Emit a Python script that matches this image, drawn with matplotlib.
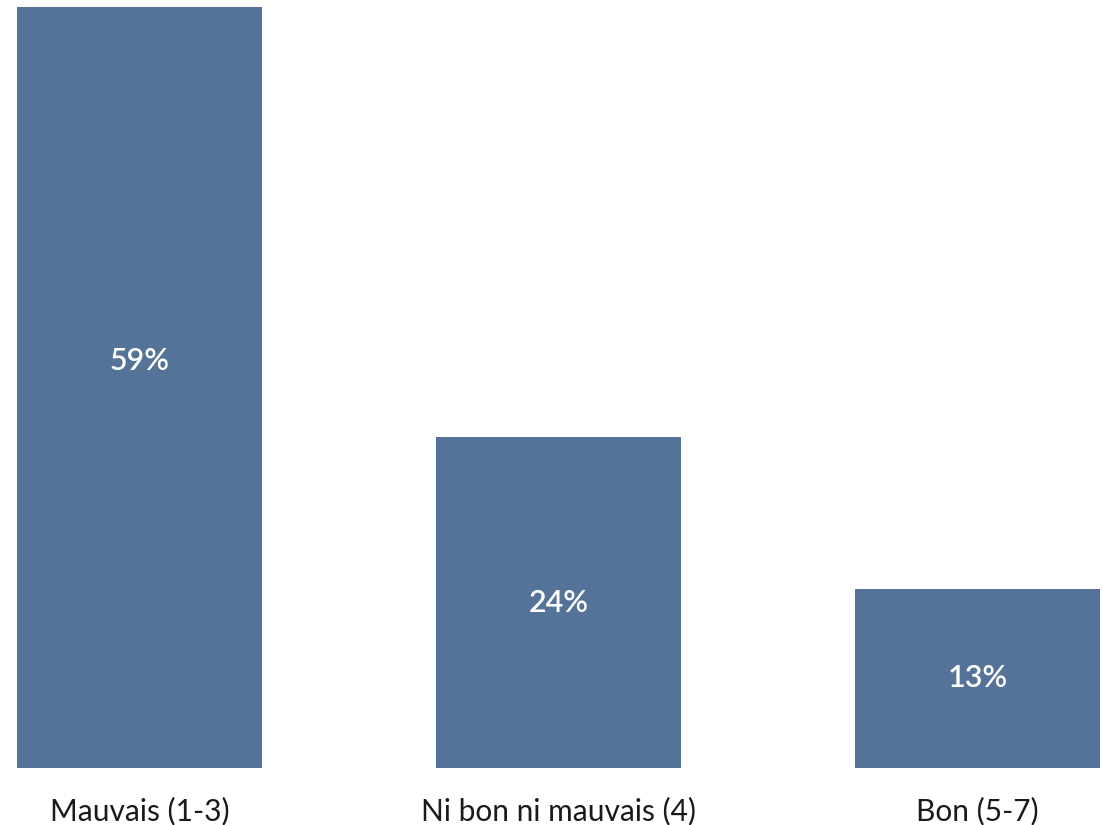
import matplotlib
matplotlib.use("Agg")
import matplotlib.pyplot as plt

categories = ["Mauvais (1-3)", "Ni bon ni mauvais (4)", "Bon (5-7)"]
values = [59, 24, 13]
value_labels = ["59%", "24%", "13%"]
y_max = 55.2  # the chart's value axis is cut off above this

bar_color = "#557298"
W, H = 1103, 825
fig = plt.figure(figsize=(W / 100, H / 100), dpi=100)
left, right, top, bottom = 17, 1100, 7, 768
ax = fig.add_axes([left / W, 1 - bottom / H, (right - left) / W, (bottom - top) / H])

width = 0.585
x = range(len(categories))
bars = ax.bar(x, values, width=width, color=bar_color)
ax.set_xlim(-width / 2, len(categories) - 1 + width / 2)
ax.set_ylim(0, y_max)

for b, lab in zip(bars, value_labels):
    ax.text(b.get_x() + b.get_width() / 2, b.get_height() / 2, lab,
            ha="center", va="center", color="white", fontsize=22,
            fontfamily="Lato", fontweight="semibold")

ax.set_xticks(list(x))
ax.set_xticklabels(categories, fontsize=21.5, fontfamily="Lato", color="#1a1a1a")
ax.tick_params(axis="x", length=0, pad=21)
ax.set_yticks([])
for s in ax.spines.values():
    s.set_visible(False)

fig.savefig("out.png", dpi=100, facecolor="white")
